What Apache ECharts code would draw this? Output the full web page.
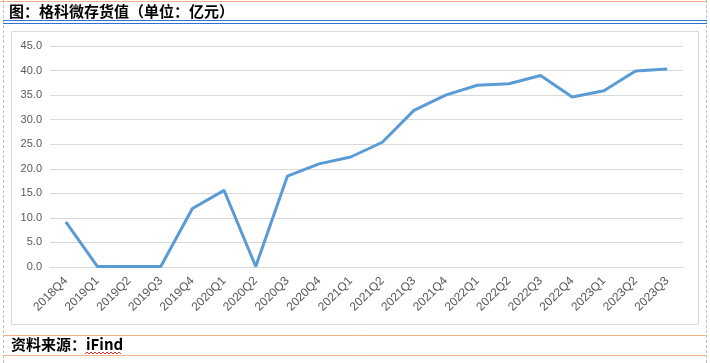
<!DOCTYPE html>
<html><head><meta charset="utf-8">
<style>html,body{margin:0;padding:0;background:#fff;}#c{width:710px;height:363px;}</style>
<script src="https://cdn.jsdelivr.net/npm/echarts@6/dist/echarts.min.js"></script>
</head><body><div id="c"></div>
<script>
const categories = ['2018Q4','2019Q1','2019Q2','2019Q3','2019Q4','2020Q1','2020Q2','2020Q3','2020Q4','2021Q1','2021Q2','2021Q3','2021Q4','2022Q1','2022Q2','2022Q3','2022Q4','2023Q1','2023Q2','2023Q3'];
const inventory = [9.2,0.1,0.1,0.1,11.9,15.6,0.1,18.5,21.0,22.4,25.4,31.9,35.0,37.0,37.3,39.0,34.6,35.9,39.9,40.3];
const yTicks = {min:0, max:45, interval:5};
const titleText = '图：格科微存货值（单位：亿元）';
const sourceText = '资料来源：iFind';

const chart = echarts.init(document.getElementById('c'));
chart.setOption({
  animation:false,
  backgroundColor:'#fff',
  grid:{left:50,right:27,top:46,bottom:96},
  xAxis:{type:'category',data:categories,boundaryGap:true,
    axisLine:{lineStyle:{color:'#D9D9D9'}},axisTick:{show:false},
    axisLabel:{rotate:45,interval:0,color:'#595959',fontSize:12,fontFamily:'Liberation Sans, Arial',margin:12}},
  yAxis:{type:'value',min:yTicks.min,max:yTicks.max,interval:yTicks.interval,
    axisLine:{show:false},axisTick:{show:false},
    splitLine:{lineStyle:{color:'#D9D9D9'}},
    axisLabel:{color:'#595959',fontSize:11,fontFamily:'Liberation Sans, Arial',margin:8,formatter:v=>v.toFixed(1)}},
  series:[{type:'line',data:inventory,symbol:'none',lineStyle:{color:'#5B9BD5',width:3},itemStyle:{color:'#5B9BD5'}}],
  graphic:[
    {type:'line',shape:{x1:0,y1:1.5,x2:706,y2:1.5},style:{stroke:'#F4B183',lineWidth:1}},
    {type:'line',shape:{x1:3.5,y1:0,x2:3.5,y2:363},style:{stroke:'#BFBFBF',lineWidth:1,lineDash:[3,2]}},
    {type:'line',shape:{x1:706.5,y1:0,x2:706.5,y2:363},style:{stroke:'#BFBFBF',lineWidth:1,lineDash:[3,2]}},
    {type:'text',left:9,top:4,style:{text:titleText,font:'bold 15px "Noto Sans CJK SC"',fill:'#000'}},
    {type:'line',shape:{x1:3,y1:20.5,x2:707,y2:20.5},style:{stroke:'#2E75D6',lineWidth:1.2}},
    {type:'line',shape:{x1:3,y1:23.5,x2:707,y2:23.5},style:{stroke:'#2E75D6',lineWidth:1.2}},
    {type:'rect',shape:{x:11.5,y:31.5,width:687,height:293},style:{fill:'none',stroke:'#D9D9D9',lineWidth:1}},
    {type:'line',shape:{x1:3,y1:335.5,x2:706,y2:335.5},style:{stroke:'#F4B183',lineWidth:1}},
    {type:'line',shape:{x1:3,y1:355.5,x2:706,y2:355.5},style:{stroke:'#F4B183',lineWidth:1}},
    {type:'text',left:11,top:337,style:{text:sourceText,font:'bold 15px "Noto Sans CJK SC"',fill:'#000'}},
    {type:'polyline',shape:{points:[[85,354],[87,352],[89,354],[91,352],[93,354],[95,352],[97,354],[99,352],[101,354],[103,352],[105,354],[107,352],[109,354],[111,352],[113,354],[115,352],[117,354],[119,352],[121,354]]},style:{stroke:'#E00000',lineWidth:0.8,fill:'none'}}
  ]
});
</script></body></html>
